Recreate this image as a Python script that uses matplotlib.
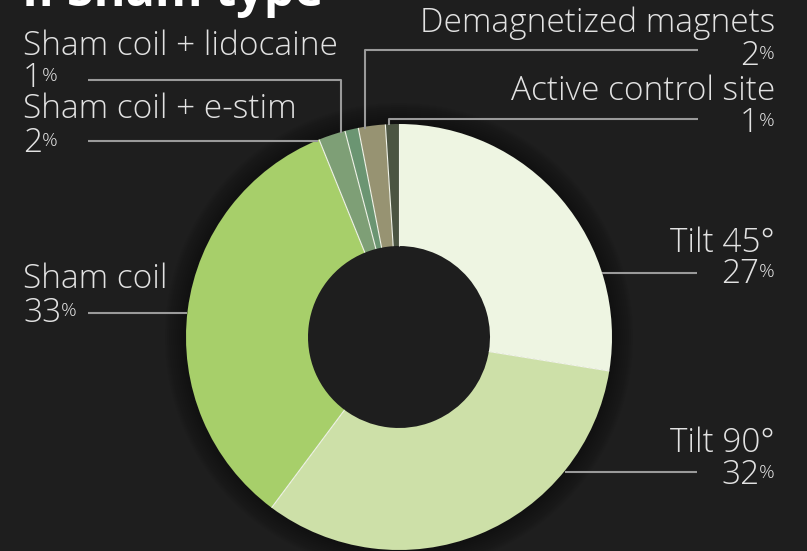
import matplotlib

matplotlib.use("Agg")
import matplotlib.pyplot as plt
from matplotlib.patches import Wedge
import numpy as np

# sham types, clockwise from 12 o'clock
labels = ["Tilt 45°", "Tilt 90°", "Sham coil", "Sham coil + e-stim",
          "Sham coil + lidocaine", "Demagnetized magnets", "Active control site"]
shares = [27, 32, 33, 2, 1, 2, 1]
colors = ["#eef5e2", "#cde0a8", "#a7cf6a", "#7e9f76", "#6b9572", "#979372", "#4b5442"]

BG = "#1e1e1e"
TXT = "#e2e2e2"
LINE = "#9a9a9a"
FONT = "Open Sans"

W, H = 807, 551
fig = plt.figure(figsize=(W / 100, H / 100), dpi=100, facecolor=BG)
ax = fig.add_axes([0, 0, 1, 1])
ax.set_facecolor(BG)


def Y(y):
    # work in top-down pixel rows
    return H - y


cx, cy, r_out, r_in = 399, Y(337), 213, 91

# soft shadow round the ring
for k in range(10):
    ax.add_patch(Wedge((cx, cy), r_out + 3 + 2 * k, 0, 360, width=3 + 2 * k,
                       color="black", alpha=0.04, lw=0))

wedges, _ = ax.pie(shares, colors=colors, startangle=90, counterclock=False,
                   radius=r_out, center=(cx, cy), frame=True,
                   wedgeprops=dict(width=r_out - r_in, linewidth=0))

# thin light separators between slices
for w in wedges:
    t = np.deg2rad(w.theta1)
    ax.plot([cx + r_in * np.cos(t), cx + r_out * np.cos(t)],
            [cy + r_in * np.sin(t), cy + r_out * np.sin(t)],
            color="#f2f5ea", lw=0.8, solid_capstyle="butt")

# label layout: side, name baseline, pct baseline, leader path
layout = {
    "Tilt 45°": ("right", 252, 283, [(602, 273), (697, 273)]),
    "Tilt 90°": ("right", 452, 484, [(565, 472), (697, 472)]),
    "Sham coil": ("left", 288, 322, [(88, 313), (187, 313)]),
    "Sham coil + e-stim": ("left", 118, 152, [(88, 141), (318, 141)]),
    "Sham coil + lidocaine": ("left", 55, 87, [(88, 80), (341, 80), (341, 133)]),
    "Demagnetized magnets": ("right", 32, 65, [(698, 50), (365, 50), (365, 129)]),
    "Active control site": ("right", 100, 132, [(698, 119), (389, 119), (389, 125)]),
}

fig.canvas.draw()
rend = fig.canvas.get_renderer()

# size the label font so the longest label spans its measured width
probe = ax.text(0, 0, "Sham coil + lidocaine", fontsize=20, family=FONT, fontweight="light")
fs = 20 * 314 / probe.get_window_extent(rend).width
probe.remove()
fs_pct = fs * 0.58

for name, val in zip(labels, shares):
    side, yn, yp, path = layout[name]
    xs, ys = zip(*path)
    ax.plot(xs, [Y(v) for v in ys], color=LINE, lw=1.5, solid_capstyle="butt")
    x0 = 775 if side == "right" else 23
    ax.text(x0, Y(yn), name, ha=side, va="baseline", color=TXT,
            fontsize=fs, family=FONT, fontweight="light")
    if side == "right":
        pc = ax.text(x0, Y(yp) + 6, "%", ha="right", va="baseline", color=TXT,
                     fontsize=fs_pct, family=FONT, fontweight="light")
        wpc = pc.get_window_extent(rend).width
        ax.text(x0 - wpc, Y(yp), str(val), ha="right", va="baseline", color=TXT,
                fontsize=fs, family=FONT, fontweight="light")
    else:
        num = ax.text(x0, Y(yp), str(val), ha="left", va="baseline", color=TXT,
                      fontsize=fs, family=FONT, fontweight="light")
        wn = num.get_window_extent(rend).width
        ax.text(x0 + wn, Y(yp) + 6, "%", ha="left", va="baseline", color=TXT,
                fontsize=fs_pct, family=FONT, fontweight="light")

# heading, mostly above the top edge
ax.text(22, Y(6), "II Sham type", ha="left", va="baseline", color="white",
        fontsize=35, family=FONT, fontweight="bold")

ax.set_xlim(0, W)
ax.set_ylim(0, H)
ax.set_aspect("equal")
ax.axis("off")

fig.savefig("out.png", dpi=100, facecolor=BG)
